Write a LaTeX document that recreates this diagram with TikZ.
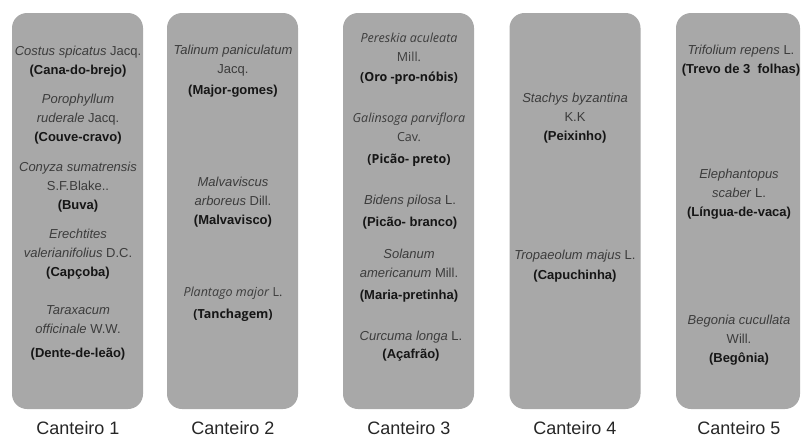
\documentclass[tikz,border=0pt]{standalone}
\usepackage{fontspec}
\setmainfont{Liberation Sans}
\newfontfamily\osans{Open Sans}
\definecolor{bedgray}{RGB}{168,168,168}
\definecolor{latin}{RGB}{60,60,60}
\definecolor{common}{RGB}{22,22,22}
\newcommand{\popname}[1]{\textcolor{common}{\textbf{#1}}}
\begin{document}
\begin{tikzpicture}[x=1pt,y=-1pt,
    bed/.style={fill=bedgray,rounded corners=15pt,minimum width=131pt,minimum height=396pt,inner sep=0pt},
    plant/.style={align=center,text=latin,inner sep=0pt,font=\fontsize{13}{19}\selectfont},
    oplant/.style={plant,font=\osans\fontsize{12.5}{19}\selectfont},
    tag/.style={anchor=base,inner sep=0pt,text=black!85,font=\fontsize{18}{20}\selectfont}]
    \useasboundingbox (0,0) rectangle (803,437);
    % canteiros
    \node[bed] (bed1) at (77.5,211) {};
    \node[bed] (bed2) at (232.5,211) {};
    \node[bed] (bed3) at (408.5,211) {};
    \node[bed] (bed4) at (575,211) {};
    \node[bed,minimum width=124pt] (bed5) at (738,211) {};
    % canteiro 1
    \node[plant] (costus) at (78,61.5) {\textit{Costus spicatus} Jacq.\\\popname{(Cana-do-brejo)}};
    \node[plant] (poro) at (78,119) {\textit{Porophyllum}\\\textit{ruderale} Jacq.\\\popname{(Couve-cravo)}};
    \node[plant] (conyza) at (78,187) {\textit{Conyza sumatrensis}\\S.F.Blake..\\\popname{(Buva)}};
    \node[plant] (erech) at (78,254) {\textit{Erechtites}\\\textit{valerianifolius} D.C.\\\popname{(Capçoba)}};
    \node[plant] (tarax) at (78,333) {\textit{Taraxacum}\\\textit{officinale} W.W.\\[5pt]\popname{(Dente-de-leão)}};
    % canteiro 2
    \node[plant] (talinum) at (233,71.5) {\textit{Talinum paniculatum}\\Jacq.\\[2pt]\popname{(Major-gomes)}};
    \node[plant] (malva) at (233,202.5) {\textit{Malvaviscus}\\\textit{arboreus} Dill.\\\popname{(Malvavisco)}};
    \node[oplant] (plantago) at (233,304) {\textit{Plantago major} L.\\[3pt]\popname{(Tanchagem)}};
    % canteiro 3
    \node[oplant] (peresk) at (409,59) {\textit{Pereskia aculeata}\\Mill.\\[1pt]\popname{(Oro -pro-nóbis)}};
    \node[oplant] (galin) at (409,140) {\textit{Galinsoga parviflora}\\Cav.\\[3pt]\popname{(Picão- preto)}};
    \node[plant] (bidens) at (410,212) {\textit{Bidens pilosa} L.\\[3pt]\popname{(Picão- branco)}};
    \node[plant] (solanum) at (409,276) {\textit{Solanum}\\\textit{americanum} Mill.\\[3pt]\popname{(Maria-pretinha)}};
    \node[plant] (curcuma) at (411,346) {\textit{Curcuma longa} L.\\[-1pt]\popname{(Açafrão)}};
    % canteiro 4
    \node[plant] (stachys) at (575,118) {\textit{Stachys byzantina}\\K.K\\\popname{(Peixinho)}};
    \node[plant] (tropae) at (575,266) {\textit{Tropaeolum majus} L.\\[1pt]\popname{(Capuchinha)}};
    % canteiro 5
    \node[plant] (trifol) at (741,61) {\textit{Trifolium repens} L.\\\popname{(Trevo de 3\ \ folhas)}};
    \node[plant] (eleph) at (739,194) {\textit{Elephantopus}\\\textit{scaber} L.\\\popname{(Língua-de-vaca)}};
    \node[plant] (begonia) at (739,340.5) {\textit{Begonia cucullata}\\Will.\\\popname{(Begônia)}};
    % labels
    \node[tag] (lab1) at (78,434) {Canteiro 1};
    \node[tag] (lab2) at (233,434) {Canteiro 2};
    \node[tag] (lab3) at (409,434) {Canteiro 3};
    \node[tag] (lab4) at (575,434) {Canteiro 4};
    \node[tag] (lab5) at (739,434) {Canteiro 5};
\end{tikzpicture}
\end{document}
